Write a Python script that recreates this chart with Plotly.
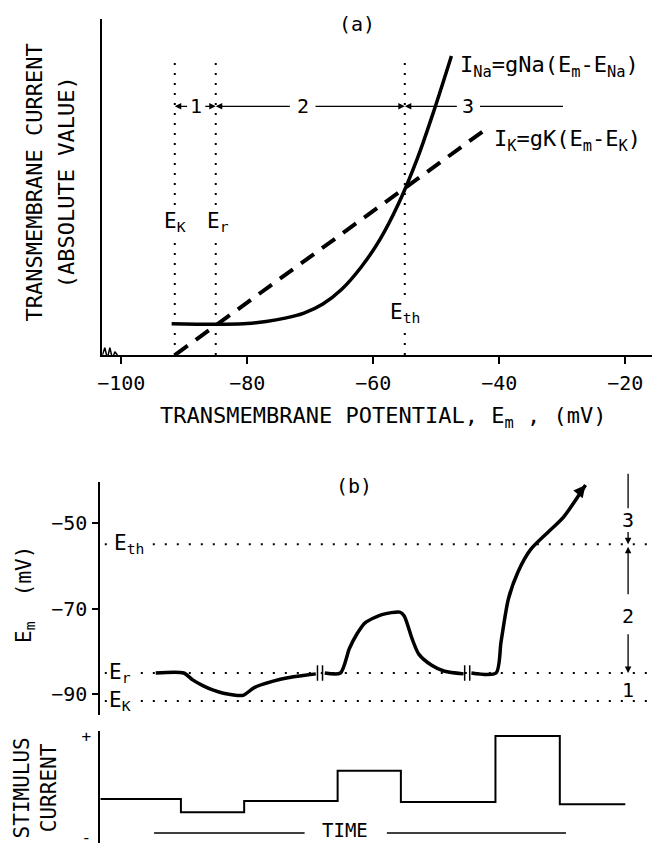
import plotly.graph_objects as go

OFF = 8  # default page body margin
W, H = 660 - OFF, 846 - OFF
FONT = "DejaVu Sans Mono"

# ---------------- data: panel (a) ----------------
E_K, E_R, E_TH = -91.5, -85.0, -55.0
a_ticks = [-100, -80, -60, -40, -20]
ik_em = [-91.5, -42.5]
ik_cur = [0.0, 66.7]
ina_em = [-92, -88, -84, -80, -77, -74, -71, -68, -65, -62, -59, -56, -53, -50.5, -47.6]
ina_cur = [9.3, 9.2, 9.2, 9.4, 10.0, 11.0, 12.5, 15.2, 19.6, 26.0, 34.2, 45.0, 58.5, 72.0, 89.0]
region_level = 74.0

# ---------------- data: panel (b) ----------------
b_ticks = [-50, -70, -90]
seg1_t = [9.9, 14.9, 16.5, 18.4, 20.2, 22.0, 25.5, 27.5, 30.9, 33.5, 36.2, 38.5]
seg1_v = [-85.0, -85.0, -86.6, -88.0, -89.0, -89.7, -90.2, -88.4, -86.9, -86.1, -85.6, -85.2]
seg2_t = [40.1, 42.9, 44.5, 45.9, 47.3, 50.3, 53.5, 54.3, 55.7, 56.9, 59.2, 61.5, 64.9]
seg2_v = [-85.0, -85.0, -79.3, -75.8, -73.3, -71.4, -70.8, -71.7, -77.0, -80.6, -83.2, -84.6, -85.2]
seg3_t = [66.3, 70.7, 71.6, 72.9, 74.6, 76.9, 79.9, 82.8]
seg3_v = [-85.0, -85.0, -77.7, -67.8, -61.5, -56.2, -52.3, -48.6]
tip_t, tip_v = 86.7, -41.2
breaks_t = [38.8, 39.7, 65.1, 66.0]

stim_t = [0, 14.4, 25.7, 42.4, 53.7, 70.6, 82.1, 93.8]
stim_v = [-0.25, -0.51, -0.29, 0.31, -0.31, 1.0, -0.35, -0.35]


def px(x):
    return (x - OFF) / W


def py(y):
    return 1 - (y - OFF) / H


fig = go.Figure()

# panel (a) traces
fig.add_trace(go.Scatter(x=ik_em, y=ik_cur, mode="lines", xaxis="x", yaxis="y",
                         line=dict(color="black", width=4, dash="16px,10px"), hoverinfo="skip"))
fig.add_trace(go.Scatter(x=ina_em, y=ina_cur, mode="lines", xaxis="x", yaxis="y",
                         line=dict(color="black", width=3.5, shape="spline", smoothing=1.0),
                         hoverinfo="skip"))
# axis break zigzag
fig.add_trace(go.Scatter(x=[-103, -102.6, -102.2, -101.8, -101.4, -101.0, -100.6],
                         y=[0, 2.2, -1.0, 2.2, -1.0, 1.0, 0], mode="lines", xaxis="x", yaxis="y",
                         cliponaxis=False, line=dict(color="black", width=1.5), hoverinfo="skip"))

# panel (b) traces
for tt, vv in [(seg1_t, seg1_v), (seg2_t, seg2_v), (seg3_t + [tip_t], seg3_v + [tip_v])]:
    fig.add_trace(go.Scatter(x=tt, y=vv, mode="lines", xaxis="x2", yaxis="y2",
                             line=dict(color="black", width=3.5, shape="spline", smoothing=0.7),
                             hoverinfo="skip"))
fig.add_trace(go.Scatter(x=stim_t, y=stim_v, mode="lines", xaxis="x2", yaxis="y3",
                         line=dict(color="black", width=2, shape="hv"), hoverinfo="skip"))

shapes = []
# vertical dotted lines panel (a)
for e in [E_K, E_R, E_TH]:
    shapes.append(dict(type="line", xref="x", yref="y", x0=e, x1=e, y0=0, y1=87.6,
                       line=dict(color="black", width=2, dash="2px,8px")))
# horizontal dotted lines panel (b)
for e in [E_TH, E_R, E_K]:
    shapes.append(dict(type="line", xref="x2", yref="y2", x0=0.8, x1=100, y0=e, y1=e,
                       line=dict(color="black", width=2, dash="2px,10px")))
# break marks
for bt in breaks_t:
    shapes.append(dict(type="line", xref="x2", yref="y2", x0=bt, x1=bt, y0=-86.8, y1=-83.2,
                       line=dict(color="black", width=1.5)))
# TIME lines
shapes.append(dict(type="line", xref="x2", yref="y3", x0=9.6, x1=36.5, y0=-0.92, y1=-0.92,
                   line=dict(color="black", width=1.5)))
shapes.append(dict(type="line", xref="x2", yref="y3", x0=51.2, x1=83.2, y0=-0.92, y1=-0.92,
                   line=dict(color="black", width=1.5)))

ann = []


def text(x, y, s, size=20, xref="paper", yref="paper", angle=0, xanchor="center", bg=None):
    d = dict(x=x, y=y, xref=xref, yref=yref, text=s, showarrow=False, textangle=angle,
             font=dict(family=FONT, size=size, color="black"), xanchor=xanchor, yanchor="middle")
    if bg:
        d["bgcolor"] = bg
    ann.append(d)


def arrow(x, y, ax, ay, xref, yref, head=True):
    ann.append(dict(x=x, y=y, ax=ax, ay=ay, xref=xref, yref=yref, axref=xref, ayref=yref,
                    text="", showarrow=True, arrowhead=2 if head else 0, arrowsize=1,
                    arrowwidth=1.3, arrowcolor="black", standoff=0, startstandoff=0))


# panel (a) texts
text(px(355), py(20), "(a)")
text(px(30), py(180), "TRANSMEMBRANE CURRENT", size=22, angle=-90)
text(px(62), py(180), "(ABSOLUTE VALUE)", size=22, angle=-90)
text(px(381), py(417), "TRANSMEMBRANE POTENTIAL, E<sub>m</sub> , (mV)", size=22)
text(E_K, 39.5, "E<sub>K</sub>", xref="x", yref="y", size=21, bg="white")
text(E_R + 0.3, 39.5, "E<sub>r</sub>", xref="x", yref="y", size=21, bg="white")
text(E_TH, 12.4, "E<sub>th</sub>", xref="x", yref="y", size=21, bg="white")
text(-46.6, 86, "I<sub>Na</sub>=gNa(E<sub>m</sub>-E<sub>Na</sub>)", xref="x", yref="y",
     xanchor="left", size=22)
text(-41.2, 63.7, "I<sub>K</sub>=gK(E<sub>m</sub>-E<sub>K</sub>)", xref="x", yref="y",
     xanchor="left", size=22)
# region markers (a)
text(-88.1, region_level, "1", xref="x", yref="y")
arrow(E_K, region_level, -89.3, region_level, "x", "y")
arrow(E_R, region_level, -86.9, region_level, "x", "y")
text(-71.2, region_level, "2", xref="x", yref="y")
arrow(E_R, region_level, -73.0, region_level, "x", "y")
arrow(E_TH, region_level, -69.4, region_level, "x", "y")
text(-44.9, region_level, "3", xref="x", yref="y")
arrow(E_TH, region_level, -46.5, region_level, "x", "y")
arrow(-29.9, region_level, -43.3, region_level, "x", "y", head=False)

# panel (b) texts
text(px(352), py(486), "(b)")
text(px(20), py(595), "E<sub>m</sub>  (mV)", size=21, angle=-90)
text(5.2, E_TH, "E<sub>th</sub>", xref="x2", yref="y2", size=21, bg="white")
text(3.6, E_R, "E<sub>r</sub>", xref="x2", yref="y2", size=21, bg="white")
text(3.6, E_K, "E<sub>K</sub>", xref="x2", yref="y2", size=21, bg="white")
# bracket on right
BX = 94.3
arrow(BX, -46.6, BX, -38.2, "x2", "y2", head=False)
text(BX, -49.4, "3", xref="x2", yref="y2")
arrow(BX, E_TH, BX, -51.8, "x2", "y2")
arrow(BX, E_TH - 0.6, BX, -67.0, "x2", "y2")
text(BX, -71.7, "2", xref="x2", yref="y2")
arrow(BX, E_R, BX, -75.6, "x2", "y2")
text(BX, -88.9, "1", xref="x2", yref="y2")
# arrowhead at end of last trace
arrow(tip_t, tip_v, 85.2, -43.6, "x2", "y2")
ann[-1]["arrowwidth"] = 3
ann[-1]["arrowsize"] = 0.8

# stimulus panel texts
text(px(18), py(790), "STIMULUS", size=21, angle=-90)
text(px(45), py(790), "CURRENT", size=21, angle=-90)
text(43.8, -0.87, "TIME", xref="x2", yref="y3", size=19)

fig.update_layout(
    width=W, height=H, margin=dict(l=0, r=0, t=0, b=0),
    paper_bgcolor="white", plot_bgcolor="white", showlegend=False,
    font=dict(family=FONT, size=20, color="black"),
    shapes=shapes, annotations=ann,
    xaxis=dict(domain=[px(98), 1], range=[-103, -14.5], anchor="y", showgrid=False,
               zeroline=False, showline=True, linecolor="black", linewidth=2, ticks="outside",
               ticklen=7, tickwidth=2, tickcolor="black", tickvals=a_ticks, ticklabelstandoff=2,
               tickfont=dict(family=FONT, size=20)),
    yaxis=dict(domain=[py(354), py(15)], range=[0, 100], anchor="x", showgrid=False,
               zeroline=False, showline=True, linecolor="black", linewidth=2,
               showticklabels=False, ticks=""),
    xaxis2=dict(domain=[px(96), 1], range=[0, 100], anchor="y2", visible=False),
    yaxis2=dict(domain=[py(717), py(482)], range=[-94.8, -40.5], anchor="x2", showgrid=False,
                zeroline=False, showline=True, linecolor="black", linewidth=2, ticks="outside",
                ticklen=6, tickwidth=2, tickcolor="black", tickvals=b_ticks,
                tickfont=dict(family=FONT, size=20), ticklabelstandoff=1),
    yaxis3=dict(domain=[0, py(733)], range=[-1.12, 1.1], anchor="x2", showgrid=False,
                zeroline=False, showline=True, linecolor="black", linewidth=2, ticks="",
                tickvals=[1, -1], ticktext=["+", "-"], tickfont=dict(family=FONT, size=16),
                ticklabelstandoff=4, ticklabeloverflow="allow"),
)

fig.write_html("out.html")
